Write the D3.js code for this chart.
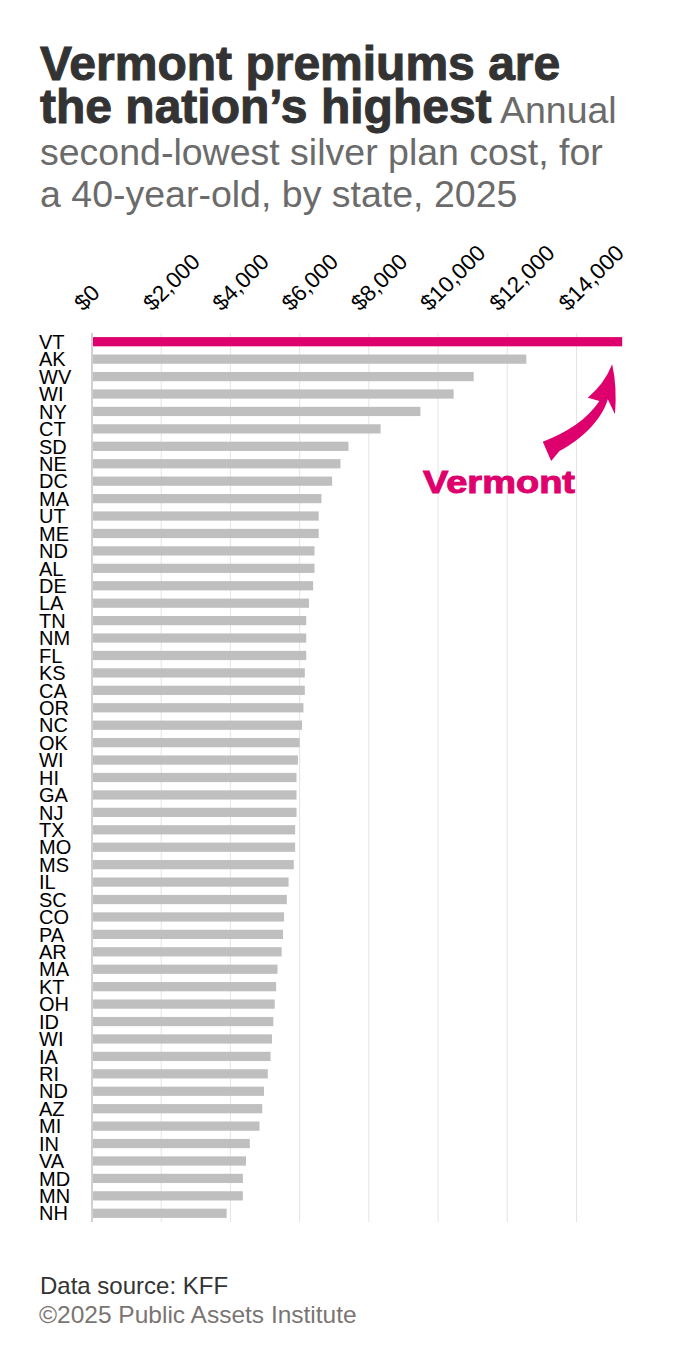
<!DOCTYPE html>
<html>
<head>
<meta charset="utf-8">
<script src="https://cdn.jsdelivr.net/npm/d3@7"></script>
<style>
  body { margin: 0; background: #fff; }
  svg { display: block; font-family: "Liberation Sans", Arial, sans-serif; }
</style>
</head>
<body>
<svg id="chart" width="681" height="1365"></svg>
<script>
// state labels as printed on the chart (top to bottom)
const states = ["VT","AK","WV","WI","NY","CT","SD","NE","DC","MA","UT","ME","ND","AL","DE","LA","TN","NM","FL","KS","CA","OR","NC","OK","WI","HI","GA","NJ","TX","MO","MS","IL","SC","CO","PA","AR","MA","KT","OH","ID","WI","IA","RI","ND","AZ","MI","IN","VA","MD","MN","NH"];
// annual second-lowest silver plan cost, 40-year-old, 2025
const premiums = [15320,12550,11030,10450,9490,8340,7410,7180,6940,6630,6550,6550,6430,6430,6390,6270,6190,6190,6190,6150,6150,6110,6070,6000,5950,5910,5910,5910,5870,5870,5830,5680,5630,5550,5520,5480,5360,5320,5280,5240,5200,5160,5080,4970,4920,4840,4560,4450,4360,4360,3890];
const tickValues = [0,2000,4000,6000,8000,10000,12000,14000];
const highlight = "VT";

const svg = d3.select("#chart");
const margin = {left: 92, right: 104, top: 333, bottom: 143};
const width = 681 - margin.left - margin.right;
const height = 1365 - margin.top - margin.bottom;

const magenta = "#de006d";

// title
const title = svg.append("g").attr("class", "title");
title.append("text")
  .attr("x", 40).attr("y", 80)
  .attr("font-size", 48).attr("font-weight", "bold")
  .attr("fill", "#333").attr("stroke", "#333").attr("stroke-width", 1)
  .text("Vermont premiums are");
const t2 = title.append("text")
  .attr("x", 40).attr("y", 123);
t2.append("tspan")
  .attr("font-size", 48).attr("font-weight", "bold")
  .attr("fill", "#333").attr("stroke", "#333").attr("stroke-width", 1)
  .text("the nation\u2019s highest");
t2.append("tspan")
  .attr("font-size", 37.5).attr("fill", "#6b6b6b")
  .text(" Annual");
title.append("text")
  .attr("x", 40).attr("y", 165)
  .attr("font-size", 37.5).attr("fill", "#6b6b6b")
  .text("second-lowest silver plan cost, for");
title.append("text")
  .attr("x", 40).attr("y", 207)
  .attr("font-size", 37.5).attr("fill", "#6b6b6b")
  .text("a 40-year-old, by state, 2025");

const g = svg.append("g")
  .attr("transform", `translate(${margin.left},${margin.top})`);

const x = d3.scaleLinear().domain([0, 14000]).range([0, 484.5]);
const y = d3.scaleBand()
  .domain(d3.range(states.length))
  .range([0, height])
  .paddingInner(0.47)
  .paddingOuter(0.235);

// gridlines
g.append("g")
  .selectAll("line")
  .data(tickValues)
  .join("line")
  .attr("x1", d => x(d)).attr("x2", d => x(d))
  .attr("y1", 0).attr("y2", height)
  .attr("stroke", d => d === 0 ? "#d0d0d0" : "#e4e4e4")
  .attr("stroke-width", d => d === 0 ? 2 : 1);

// top axis with rotated labels
const xAxis = g.append("g")
  .call(d3.axisTop(x).tickValues(tickValues).tickSize(0)
    .tickFormat(d => "$" + d3.format(",")(d)));
xAxis.select(".domain").remove();
xAxis.selectAll("text")
  .attr("font-size", 22.5)
  .attr("font-family", "Liberation Sans, Arial, sans-serif")
  .attr("fill", "#000")
  .attr("text-anchor", "start")
  .attr("dy", 0)
  .attr("transform", "translate(-7,-19) rotate(-45)");

// bars
g.append("g")
  .selectAll("rect")
  .data(premiums)
  .join("rect")
  .attr("x", 1)
  .attr("y", (d, i) => y(i))
  .attr("width", d => x(d) - 1)
  .attr("height", y.bandwidth())
  .attr("fill", (d, i) => states[i] === highlight ? magenta : "#bfbfbf");

// state labels
svg.append("g")
  .selectAll("text")
  .data(states)
  .join("text")
  .attr("x", 39)
  .attr("y", (d, i) => margin.top + y(i) + y.bandwidth() / 2)
  .attr("dy", "0.36em")
  .attr("font-size", 20)
  .attr("fill", "#000")
  .text(d => d);

// annotation: curved arrow pointing at the Vermont bar
const vtIndex = states.indexOf(highlight);
const tipX = margin.left + x(premiums[vtIndex]) - 10;
const tipY = margin.top + y(vtIndex) + y.bandwidth() + 18;
svg.append("path")
  .attr("transform", `translate(${tipX},${tipY})`)
  .attr("fill", magenta)
  .attr("d", "M0,0 Q5,22 2.8,50 L-4.4,35 C-10,55 -30,75 -52.7,86.7 L-61,96.7 L-69.4,77.3 C-45,68 -25,55 -12.7,36.7 L-24.4,33.3 Q-8,20 0,0 Z");

svg.append("text")
  .attr("x", 423).attr("y", 493)
  .attr("font-size", 32).attr("font-weight", "bold")
  .attr("fill", magenta).attr("stroke", magenta).attr("stroke-width", 1)
  .attr("textLength", 152).attr("lengthAdjust", "spacingAndGlyphs")
  .text("Vermont");

// footer
svg.append("text")
  .attr("x", 40).attr("y", 1294)
  .attr("font-size", 24).attr("fill", "#333")
  .text("Data source: KFF");
svg.append("text")
  .attr("x", 39).attr("y", 1323)
  .attr("font-size", 24.5).attr("fill", "#7a7572")
  .text("\u00a92025 Public Assets Institute");
</script>
</body>
</html>
